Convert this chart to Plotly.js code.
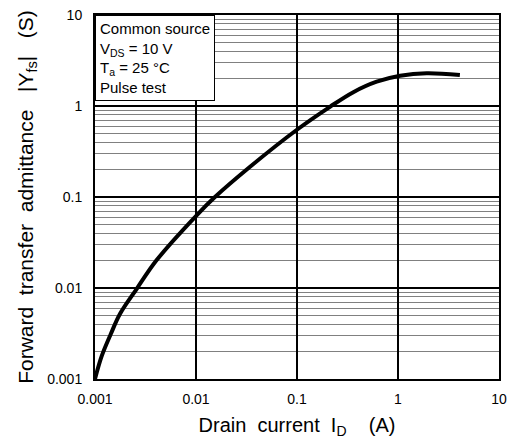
<!DOCTYPE html>
<html>
<head>
<meta charset="utf-8">
<script src="https://cdn.plot.ly/plotly-3.0.1.min.js"></script>
<style>html,body{margin:0;padding:0;background:#fff;}#chart{width:509px;height:446px;}</style>
</head>
<body>
<div id="chart"></div>
<script>
// Drain current I_D (A)
const drainCurrent = [0.001, 0.00116, 0.00143, 0.00177, 0.00259, 0.00408, 0.0102, 0.0154, 0.0343, 0.099, 0.212, 0.361, 0.615, 1.05, 1.92, 4.1];
// Forward transfer admittance |Yfs| (S)
const admittance = [0.001, 0.00176, 0.0031, 0.0052, 0.0098, 0.0203, 0.0634, 0.1, 0.215, 0.545, 0.98, 1.42, 1.85, 2.15, 2.29, 2.19];

const decadeVals = [0.001, 0.01, 0.1, 1, 10];
const decadeText = ['0.001', '0.01', '0.1', '1', '10'];

const conditionLines = ['Common source', 'V<sub>DS</sub> = 10 V', 'T<sub>a</sub> = 25 \u00B0C', 'Pulse test'];

const FONT = 'Liberation Sans, Arial, sans-serif';
const sp = n => '\u00A0'.repeat(n);

const trace = {
  x: drainCurrent,
  y: admittance,
  type: 'scatter',
  mode: 'lines',
  line: {color: '#000', width: 4, shape: 'spline', smoothing: 1},
  hoverinfo: 'skip'
};

const axisCommon = {
  type: 'log',
  range: [-3, 1],
  tickmode: 'array',
  tickvals: decadeVals,
  ticktext: decadeText,
  showgrid: true,
  gridcolor: '#000',
  gridwidth: 2,
  showline: true,
  linecolor: '#000',
  linewidth: 2,
  mirror: true,
  ticks: '',
  zeroline: false,
  tickfont: {family: FONT, size: 14, color: '#000'}
};

const layout = {
  width: 509,
  height: 446,
  margin: {l: 95, r: 10, t: 15, b: 67},
  paper_bgcolor: '#fff',
  plot_bgcolor: '#fff',
  showlegend: false,
  font: {family: FONT, color: '#000'},
  xaxis: Object.assign({}, axisCommon, {
    ticklabelstandoff: 6,
    title: {text: 'Drain' + sp(2) + 'current' + sp(2) + 'I<sub>D</sub>' + sp(4) + '(A)', font: {family: FONT, size: 20, color: '#000'}, standoff: 12}
  }),
  yaxis: Object.assign({}, axisCommon, {
    ticklabelstandoff: 8,
    minor: {tickmode: 'linear', dtick: 'D1', showgrid: true, gridcolor: '#808080', gridwidth: 1, ticks: ''},
    title: {text: 'Forward' + sp(2) + 'transfer' + sp(2) + 'admittance' + sp(3) + '|Y<sub>fs</sub>|' + sp(3) + '(S)', font: {family: FONT, size: 21, color: '#000'}, standoff: 8}
  }),
  annotations: [{
    xref: 'paper', yref: 'paper', x: 0, y: 1,
    xanchor: 'left', yanchor: 'top',
    align: 'left', showarrow: false,
    text: conditionLines.join('<br>'),
    font: {family: FONT, size: 15, color: '#000'},
    bgcolor: '#fff', bordercolor: '#000', borderwidth: 1, borderpad: 4
  }]
};

Plotly.newPlot('chart', [trace], layout, {displayModeBar: false, staticPlot: true});
</script>
</body>
</html>
